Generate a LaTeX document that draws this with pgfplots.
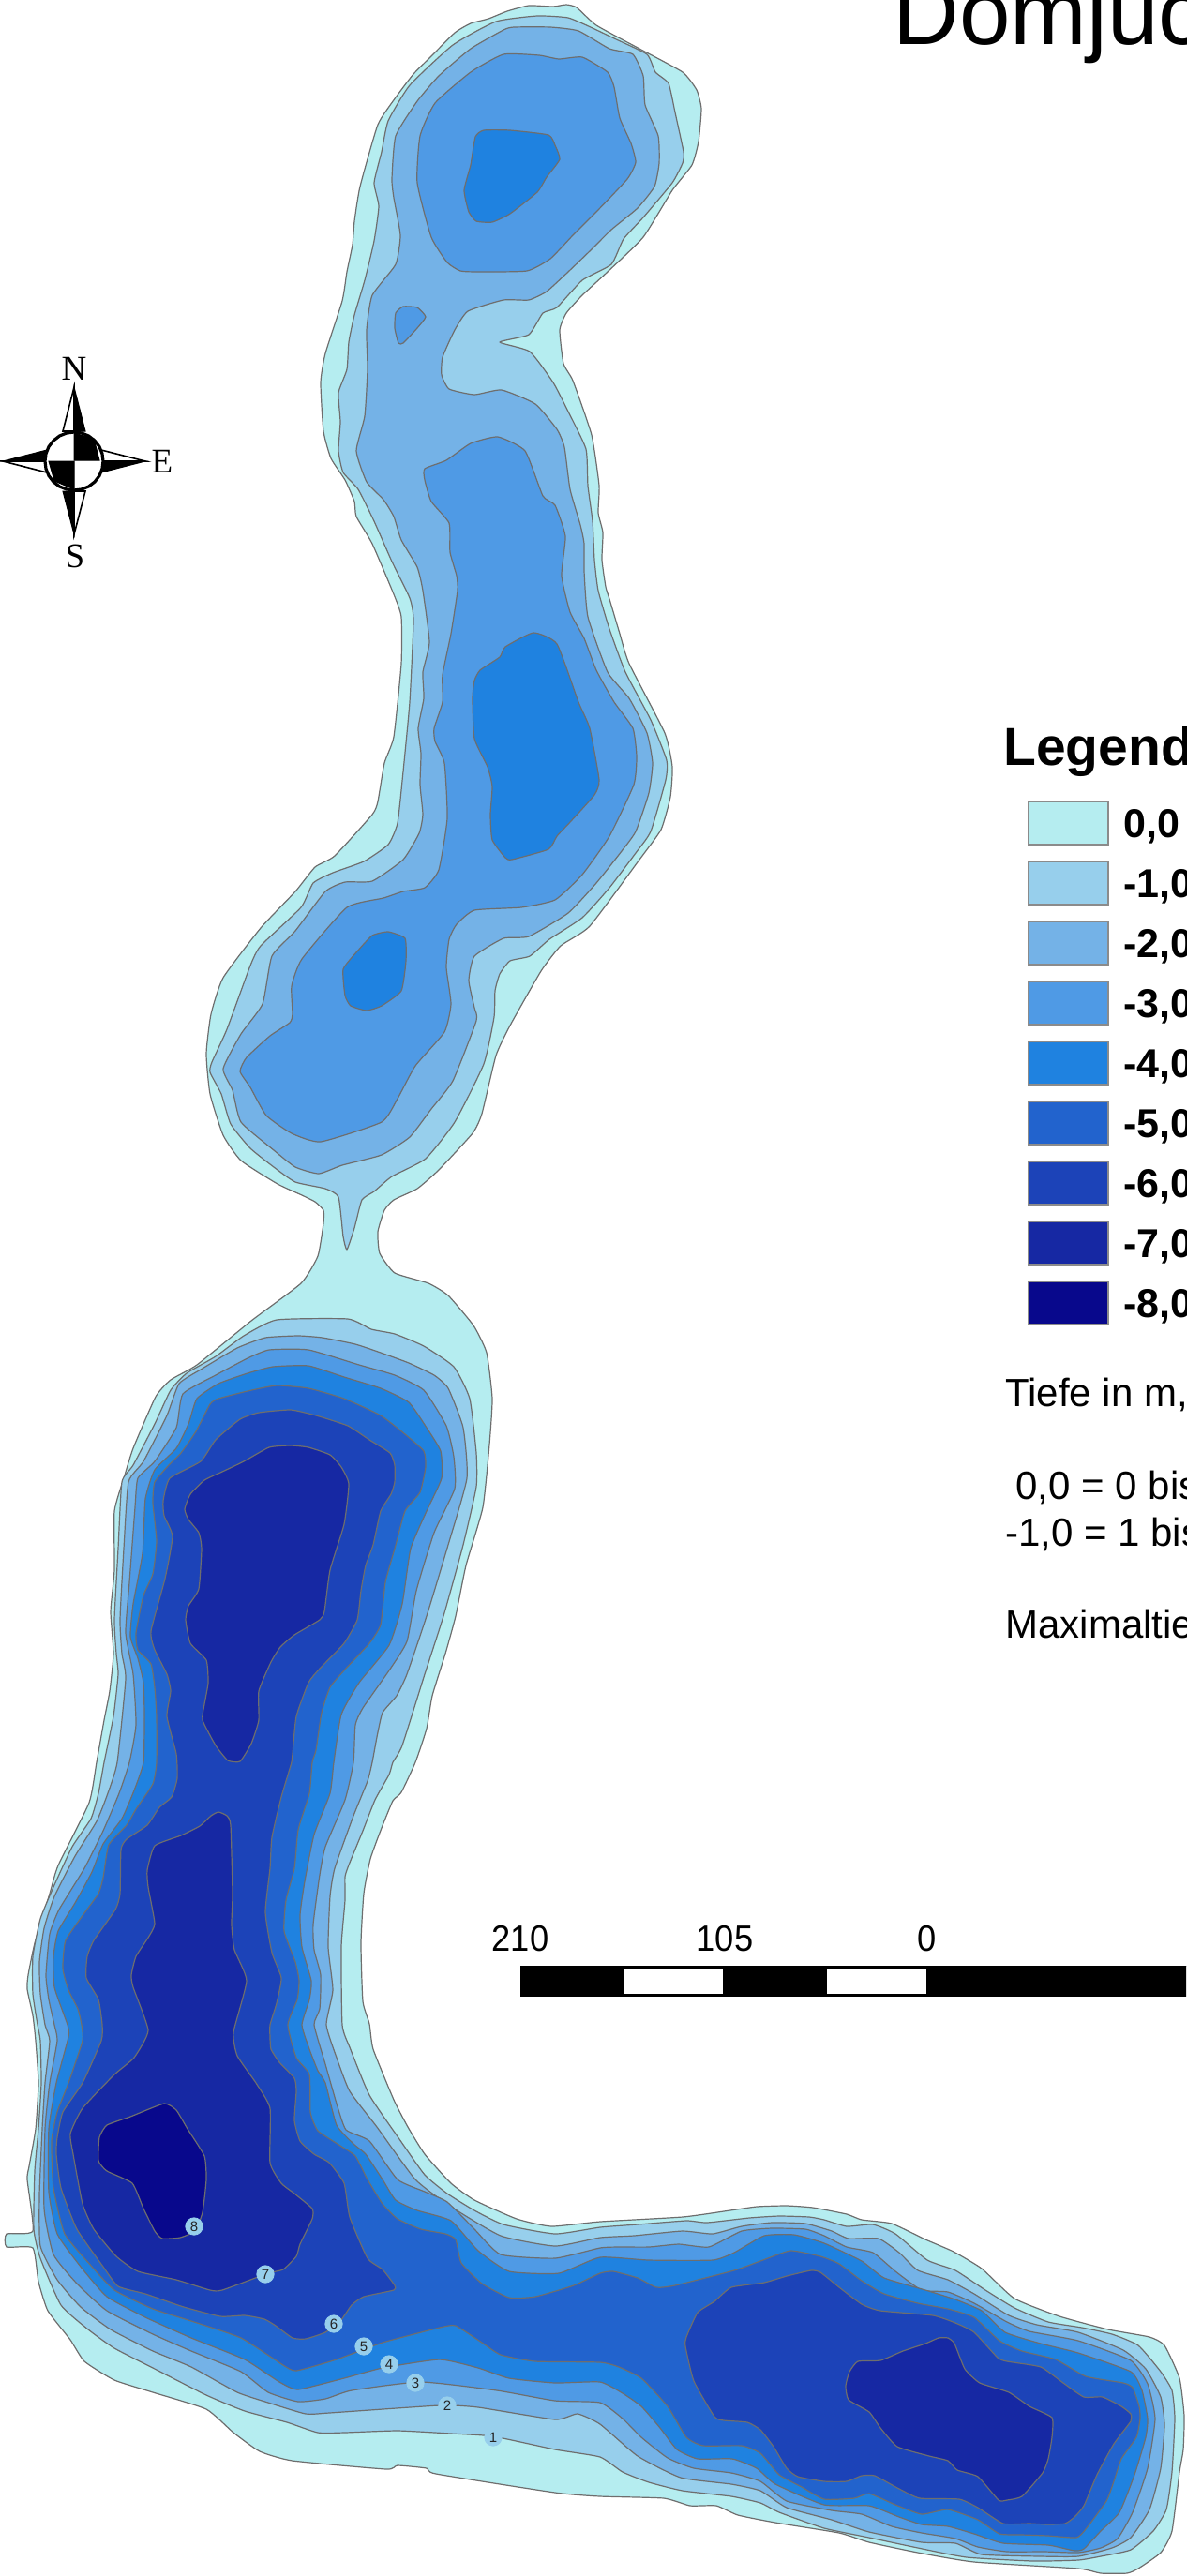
\documentclass[border=0pt]{standalone}
\usepackage{fontspec}
\setmainfont{Liberation Sans}
\newfontfamily\compassfont{Liberation Serif}
\usepackage{pgfplots}
\pgfplotsset{compat=1.18}
% coordinates are pixels of the map, 1 px = 0.5 pt
\definecolor{d0}{HTML}{B5EDF0}
\definecolor{d1}{HTML}{97CFEC}
\definecolor{d2}{HTML}{74B2E7}
\definecolor{d3}{HTML}{4F9AE5}
\definecolor{d4}{HTML}{1F82E0}
\definecolor{d5}{HTML}{2263CD}
\definecolor{d6}{HTML}{1C43B8}
\definecolor{d7}{HTML}{1628A3}
\definecolor{d8}{HTML}{08088C}
\definecolor{edge}{HTML}{6E6E6E}
\pgfplotsset{
  depth/.style={fill=#1, draw=edge, line width=0.6pt, line join=round, mark=none, /tikz/smooth cycle, /tikz/tension=0.3},
  swatch/.style={fill=#1, draw=edge!80, line width=0.6pt, mark=none},
  solid black/.style={fill=black, draw=black, line width=0.5pt, line join=miter, mark=none},
  arm white/.style={fill=white, draw=black, line width=0.8pt, line join=miter, mark=none},
}
\begin{document}
\begin{tikzpicture}
\path[use as bounding box] (0,0) rectangle (632.5pt,1374pt);
\clip (0,0) rectangle (632.5pt,1374pt);
\begin{axis}[
  scale only axis, width=632.5pt, height=1374pt,
  axis lines=none, xmin=0, xmax=1265, ymin=0, ymax=2748, y dir=reverse,
  clip=false,
]
% 0,0 whole lake
\addplot[depth=d0] coordinates {(604,5)(615,8)(636,27)(682,52)(728,77)(743,96)(748,116)(745,151)(738,176)(717,203)(686,253)(648,290)(621,315)(604,334)(597,352)(601,388)(611,406)(631,464)(639,518)(638,547)(643,568)(642,597)(646,626)(650,639)(661,676)(671,708)(709,782)(717,818)(715,850)(705,885)(682,917)(629,988)(598,1009)(577,1036)(544,1094)(529,1126)(514,1188)(504,1209)(468,1248)(445,1268)(420,1280)(410,1291)(403,1314)(405,1337)(421,1358)(457,1369)(478,1382)(505,1414)(519,1443)(525,1492)(522,1541)(515,1608)(497,1670)(486,1724)(475,1764)(461,1809)(455,1844)(443,1880)(428,1912)(419,1921)(407,1950)(395,1983)(388,2020)(385,2073)(387,2135)(394,2159)(398,2186)(420,2240)(435,2269)(453,2298)(481,2329)(506,2347)(551,2367)(588,2375)(640,2370)(728,2365)(772,2359)(807,2354)(839,2353)(867,2355)(903,2362)(919,2368)(951,2372)(987,2389)(1017,2402)(1047,2420)(1082,2452)(1130,2471)(1182,2485)(1226,2493)(1242,2502)(1258,2537)(1263,2577)(1262,2613)(1258,2637)(1250,2700)(1238,2723)(1214,2740)(1202,2745)(1174,2745)(1150,2740)(1039,2733)(979,2723)(927,2712)(895,2702)(827,2691)(787,2683)(764,2673)(736,2673)(708,2665)(640,2663)(592,2659)(465,2639)(455,2633)(424,2630)(412,2634)(312,2625)(277,2615)(249,2595)(220,2570)(163,2552)(122,2539)(90,2519)(75,2496)(51,2465)(41,2434)(35,2398)(7,2397)(7,2383)(35,2380)(29,2325)(31,2311)(38,2271)(41,2222)(38,2177)(35,2150)(29,2122)(30,2107)(37,2073)(53,2020)(62,1990)(95,1923)(103,1880)(111,1835)(117,1804)(121,1764)(118,1719)(122,1675)(122,1612)(132,1577)(142,1545)(166,1490)(182,1472)(210,1456)(268,1409)(321,1369)(339,1340)(345,1305)(345,1291)(336,1282)(322,1275)(296,1263)(257,1238)(238,1211)(224,1167)(220,1124)(225,1082)(238,1043)(278,990)(315,951)(336,925)(357,913)(397,869)(403,855)(410,814)(420,786)(428,708)(428,658)(420,634)(397,580)(380,551)(378,535)(368,512)(353,489)(345,460)(342,408)(347,377)(365,321)(370,290)(376,261)(378,236)(384,199)(403,133)(422,104)(441,79)(460,60)(485,35)(502,25)(521,20)(541,12)(564,6)(590,7)};
% north basin
\addplot[depth=d1] coordinates {(573,17)(606,19)(632,30)(655,41)(690,58)(699,77)(713,89)(720,120)(729,162)(728,174)(717,195)(686,232)(665,255)(652,282)(621,299)(594,328)(579,334)(564,357)(533,365)(565,375)(590,408)(606,439)(625,479)(627,518)(632,556)(634,597)(638,630)(650,671)(667,717)(694,768)(711,811)(710,832)(694,887)(678,910)(650,947)(621,979)(586,1002)(565,1020)(544,1025)(533,1039)(528,1057)(527,1085)(516,1135)(485,1197)(454,1236)(418,1255)(399,1271)(386,1280)(378,1310)(370,1333)(366,1319)(361,1277)(347,1268)(315,1261)(292,1245)(267,1225)(246,1199)(236,1167)(224,1144)(226,1133)(242,1098)(267,1030)(278,1009)(321,968)(334,942)(355,931)(388,919)(414,901)(424,878)(430,823)(437,749)(441,662)(437,638)(418,599)(399,556)(382,522)(366,504)(361,481)(363,450)(361,419)(370,394)(372,365)(378,336)(389,299)(399,257)(404,220)(399,195)(407,162)(414,129)(437,91)(483,48)(529,23)};
\addplot[depth=d2] coordinates {(548,29)(587,29)(617,33)(650,52)(675,58)(686,81)(688,112)(702,145)(703,174)(698,199)(680,222)(652,245)(632,265)(606,290)(583,311)(564,320)(537,320)(499,332)(485,352)(472,381)(471,400)(479,415)(506,421)(535,416)(571,431)(594,458)(602,477)(608,522)(619,560)(623,580)(623,609)(627,658)(648,717)(671,745)(690,782)(696,814)(692,846)(678,887)(663,908)(636,942)(606,974)(564,999)(537,1001)(506,1020)(500,1046)(506,1075)(508,1089)(483,1153)(460,1183)(437,1213)(407,1232)(365,1243)(340,1252)(315,1245)(292,1227)(257,1197)(248,1163)(238,1140)(257,1103)(280,1071)(290,1020)(315,993)(347,951)(368,941)(397,940)(430,917)(447,889)(451,869)(448,837)(449,804)(446,777)(452,745)(451,717)(458,685)(451,630)(445,605)(428,576)(420,551)(409,533)(391,514)(380,481)(389,444)(392,394)(391,352)(397,315)(422,282)(427,251)(420,211)(418,191)(422,145)(445,108)(468,81)(502,52)(537,32)};
\addplot[depth=d3] coordinates {(537,58)(575,59)(596,63)(621,61)(648,77)(655,93)(661,126)(673,153)(678,173)(669,191)(636,226)(611,251)(587,276)(562,289)(510,290)(491,289)(477,280)(460,253)(445,195)(448,145)(464,110)(502,77)};
\addplot[depth=d3] coordinates {(430,327)(445,328)(454,338)(445,350)(430,366)(425,366)(421,350)(422,334)};
\addplot[depth=d3] coordinates {(453,500)(476,491)(502,473)(531,466)(560,481)(579,529)(592,539)(603,572)(599,614)(608,653)(623,681)(636,715)(655,749)(675,777)(679,807)(676,837)(650,892)(621,933)(592,960)(556,968)(506,971)(487,986)(479,1002)(476,1032)(481,1071)(474,1101)(443,1137)(424,1172)(407,1197)(342,1218)(311,1209)(284,1190)(267,1160)(256,1143)(263,1128)(288,1105)(309,1091)(312,1082)(311,1052)(322,1023)(370,968)(409,958)(430,951)(453,947)(468,928)(477,873)(474,814)(464,791)(463,777)(472,749)(472,720)(481,676)(488,630)(487,614)(480,589)(479,558)(460,535)(453,512)};
\addplot[depth=d4] coordinates {(516,139)(544,139)(585,144)(592,155)(597,170)(583,189)(573,205)(544,228)(525,237)(508,236)(500,226)(495,203)(502,176)(507,146)};
\addplot[depth=d4] coordinates {(569,675)(594,687)(617,749)(629,777)(639,832)(634,848)(609,876)(594,892)(585,906)(546,917)(539,915)(525,896)(523,869)(525,839)(520,818)(506,788)(504,745)(506,726)(512,715)(533,701)(539,690)};
\addplot[depth=d4] coordinates {(397,998)(414,994)(432,1001)(433,1025)(428,1057)(407,1073)(391,1078)(374,1073)(368,1062)(366,1034)(380,1016)};
% south basin
\addplot[depth=d1] coordinates {(295,1408)(371,1407)(396,1418)(421,1423)(452,1436)(484,1458)(501,1492)(508,1550)(508,1586)(494,1648)(473,1724)(453,1786)(429,1862)(419,1880)(415,1893)(400,1920)(387,1953)(373,1987)(368,2002)(368,2027)(364,2077)(365,2160)(373,2184)(394,2235)(426,2282)(453,2320)(477,2340)(506,2358)(537,2373)(592,2383)(640,2376)(680,2373)(732,2369)(754,2371)(799,2366)(831,2364)(863,2365)(879,2368)(903,2375)(931,2373)(955,2383)(989,2411)(1019,2422)(1051,2443)(1082,2462)(1118,2477)(1154,2483)(1186,2490)(1214,2502)(1238,2530)(1250,2550)(1253,2580)(1250,2637)(1244,2677)(1230,2700)(1206,2720)(1174,2727)(1150,2731)(1102,2732)(1031,2728)(979,2718)(927,2707)(879,2697)(831,2680)(811,2670)(780,2663)(728,2657)(692,2648)(664,2637)(640,2621)(592,2613)(526,2599)(481,2596)(424,2593)(367,2595)(339,2595)(306,2584)(261,2572)(220,2555)(163,2526)(122,2505)(94,2485)(65,2459)(43,2409)(36,2378)(37,2316)(41,2271)(44,2222)(43,2177)(40,2160)(35,2127)(35,2087)(43,2047)(57,2013)(77,1970)(97,1940)(105,1913)(111,1880)(121,1831)(126,1786)(124,1764)(122,1728)(126,1652)(130,1581)(142,1563)(165,1519)(182,1483)(199,1465)(230,1447)(260,1425)};
\addplot[depth=d2] coordinates {(318,1425)(344,1427)(379,1434)(406,1443)(436,1454)(463,1467)(478,1481)(494,1523)(498,1577)(478,1648)(455,1724)(434,1786)(423,1809)(408,1827)(402,1853)(397,1880)(392,1900)(377,1937)(357,1993)(352,2023)(350,2077)(355,2123)(348,2160)(359,2195)(373,2231)(402,2269)(443,2325)(481,2354)(534,2385)(592,2396)(640,2387)(676,2385)(728,2380)(760,2383)(791,2375)(823,2371)(859,2372)(887,2380)(905,2388)(937,2388)(959,2403)(979,2422)(1011,2432)(1039,2447)(1076,2470)(1106,2480)(1150,2488)(1198,2507)(1222,2527)(1238,2557)(1242,2587)(1238,2633)(1226,2677)(1206,2707)(1186,2718)(1150,2727)(1110,2727)(1047,2725)(1019,2713)(983,2712)(927,2701)(887,2688)(839,2675)(811,2657)(780,2650)(726,2643)(680,2620)(640,2586)(616,2575)(592,2581)(510,2568)(469,2566)(351,2574)(326,2575)(286,2563)(253,2552)(204,2525)(163,2508)(118,2485)(86,2461)(61,2432)(43,2396)(42,2342)(45,2271)(48,2222)(53,2177)(48,2160)(43,2127)(42,2093)(47,2057)(58,2023)(80,1980)(103,1943)(115,1913)(125,1880)(134,1791)(130,1764)(128,1728)(132,1652)(137,1581)(153,1559)(178,1510)(191,1476)(214,1461)(253,1438)(283,1427)};
\addplot[depth=d3] coordinates {(287,1440)(329,1440)(383,1456)(421,1467)(452,1483)(476,1521)(484,1554)(485,1588)(463,1635)(444,1697)(434,1751)(415,1782)(387,1822)(379,1840)(377,1880)(368,1920)(347,1970)(341,2000)(334,2053)(335,2080)(342,2107)(341,2143)(335,2160)(347,2202)(359,2244)(369,2272)(394,2284)(424,2325)(453,2338)(477,2349)(506,2378)(534,2405)(592,2409)(640,2398)(660,2397)(692,2397)(724,2394)(756,2397)(791,2380)(823,2377)(859,2378)(879,2385)(903,2397)(931,2403)(955,2423)(983,2443)(1011,2445)(1039,2457)(1074,2477)(1098,2487)(1150,2497)(1206,2518)(1224,2543)(1232,2580)(1224,2633)(1208,2680)(1192,2708)(1174,2718)(1150,2723)(1114,2722)(1074,2722)(1043,2717)(1019,2708)(983,2702)(951,2695)(919,2682)(887,2678)(839,2668)(811,2647)(780,2638)(740,2633)(712,2622)(684,2600)(664,2580)(640,2563)(592,2561)(530,2550)(449,2541)(375,2550)(347,2559)(318,2562)(286,2552)(257,2530)(204,2508)(163,2490)(114,2465)(82,2436)(57,2405)(47,2356)(48,2271)(53,2222)(61,2177)(58,2160)(52,2133)(49,2107)(53,2063)(63,2037)(90,1993)(110,1953)(127,1913)(138,1880)(145,1840)(142,1786)(134,1742)(138,1688)(144,1608)(147,1577)(165,1559)(188,1523)(195,1487)(230,1467)(264,1449)};
\addplot[depth=d4] coordinates {(291,1458)(329,1457)(367,1469)(406,1481)(436,1496)(455,1523)(470,1548)(471,1577)(455,1612)(438,1652)(429,1711)(415,1755)(383,1795)(364,1829)(356,1880)(352,1913)(335,1957)(325,2007)(320,2043)(322,2077)(332,2113)(330,2133)(322,2160)(330,2186)(339,2209)(347,2222)(359,2267)(377,2287)(390,2298)(408,2325)(422,2347)(445,2358)(481,2369)(510,2401)(543,2423)(596,2425)(640,2408)(692,2411)(760,2411)(783,2403)(815,2385)(847,2384)(879,2393)(919,2412)(943,2430)(987,2443)(1019,2453)(1047,2465)(1072,2488)(1110,2500)(1150,2510)(1206,2530)(1218,2550)(1224,2580)(1222,2600)(1210,2640)(1194,2680)(1174,2700)(1156,2719)(1146,2721)(1118,2715)(1070,2713)(1039,2703)(1011,2695)(983,2693)(959,2685)(927,2673)(879,2672)(827,2650)(807,2633)(781,2623)(744,2623)(722,2613)(704,2590)(684,2567)(664,2553)(640,2541)(592,2542)(543,2537)(510,2526)(469,2517)(408,2526)(367,2537)(318,2549)(298,2541)(261,2517)(204,2494)(155,2472)(114,2450)(86,2418)(61,2383)(52,2338)(52,2271)(60,2222)(73,2173)(72,2160)(58,2120)(57,2087)(62,2060)(80,2030)(98,1997)(110,1967)(130,1940)(143,1910)(153,1880)(154,1831)(153,1795)(147,1769)(139,1746)(142,1711)(152,1657)(155,1599)(165,1568)(188,1545)(201,1519)(210,1492)(233,1476)(264,1465)};
\addplot[depth=d5] coordinates {(233,1492)(264,1484)(295,1478)(329,1481)(367,1492)(406,1510)(432,1530)(452,1548)(454,1565)(448,1592)(432,1612)(421,1652)(411,1688)(406,1733)(394,1753)(367,1782)(352,1800)(343,1827)(337,1867)(333,1880)(330,1913)(318,1952)(314,1993)(305,2027)(303,2060)(315,2093)(319,2113)(317,2133)(307,2160)(316,2195)(330,2213)(331,2253)(339,2273)(363,2289)(379,2300)(392,2325)(408,2351)(424,2367)(449,2378)(475,2383)(486,2389)(492,2414)(514,2436)(543,2451)(571,2450)(612,2438)(640,2425)(654,2423)(680,2430)(700,2440)(720,2438)(783,2422)(811,2412)(843,2401)(875,2407)(895,2415)(919,2433)(943,2447)(979,2457)(1011,2463)(1039,2472)(1066,2497)(1090,2508)(1126,2517)(1158,2535)(1198,2542)(1208,2547)(1215,2567)(1216,2580)(1212,2600)(1196,2623)(1188,2647)(1180,2668)(1158,2698)(1148,2707)(1118,2705)(1090,2704)(1066,2703)(1043,2688)(1011,2677)(983,2682)(955,2672)(927,2660)(911,2665)(879,2666)(855,2653)(831,2640)(811,2617)(791,2609)(750,2609)(732,2600)(712,2567)(684,2537)(660,2525)(640,2520)(571,2519)(534,2512)(514,2499)(486,2481)(469,2483)(408,2499)(359,2517)(316,2529)(302,2523)(257,2494)(204,2476)(163,2463)(122,2443)(98,2418)(69,2383)(57,2334)(55,2284)(61,2253)(73,2222)(88,2177)(87,2160)(83,2143)(73,2123)(67,2100)(70,2070)(92,2038)(105,2020)(110,2003)(116,1968)(135,1947)(145,1930)(163,1903)(167,1880)(167,1831)(165,1800)(161,1775)(147,1760)(145,1742)(153,1702)(163,1679)(167,1644)(163,1603)(165,1581)(180,1563)(193,1550)(209,1527)(224,1498)};
\addplot[depth=d6] coordinates {(276,1507)(310,1504)(337,1510)(371,1521)(394,1536)(416,1550)(421,1563)(421,1581)(417,1594)(406,1612)(398,1648)(390,1670)(385,1697)(381,1728)(367,1753)(341,1780)(329,1795)(316,1831)(312,1871)(311,1880)(300,1917)(290,1960)(288,1993)(283,2040)(290,2083)(300,2110)(295,2137)(288,2160)(288,2173)(289,2186)(298,2200)(314,2217)(316,2231)(314,2262)(320,2284)(335,2298)(351,2307)(367,2329)(373,2365)(392,2409)(408,2421)(421,2438)(420,2443)(388,2450)(375,2459)(363,2476)(347,2488)(326,2495)(312,2494)(294,2481)(282,2474)(261,2470)(235,2471)(196,2461)(155,2447)(126,2439)(110,2418)(82,2378)(65,2334)(60,2298)(61,2280)(67,2253)(88,2222)(108,2177)(109,2160)(105,2133)(92,2110)(93,2087)(100,2070)(123,2037)(128,2020)(129,1973)(135,1962)(157,1947)(170,1928)(183,1917)(189,1897)(188,1871)(178,1831)(182,1804)(178,1786)(165,1760)(161,1740)(176,1684)(184,1639)(175,1617)(174,1601)(181,1577)(214,1559)(230,1536)(256,1514)};
\addplot[depth=d6] coordinates {(865,2422)(875,2424)(895,2440)(919,2458)(939,2465)(995,2470)(1019,2478)(1039,2488)(1064,2515)(1074,2519)(1110,2525)(1134,2542)(1156,2557)(1176,2557)(1196,2567)(1206,2575)(1206,2583)(1188,2607)(1170,2640)(1156,2673)(1146,2685)(1136,2692)(1118,2693)(1098,2692)(1070,2692)(1043,2675)(1023,2666)(981,2665)(959,2655)(933,2641)(919,2641)(903,2647)(879,2647)(851,2642)(839,2633)(825,2610)(811,2592)(797,2584)(772,2582)(762,2578)(740,2540)(731,2503)(732,2493)(744,2467)(762,2455)(780,2440)(815,2435)(839,2428)};
\addplot[depth=d7] coordinates {(197,1610)(203,1594)(218,1579)(237,1570)(260,1559)(287,1544)(310,1542)(329,1544)(352,1552)(364,1565)(372,1583)(367,1626)(352,1675)(346,1719)(341,1728)(314,1744)(299,1757)(289,1773)(276,1804)(276,1835)(268,1860)(256,1879)(243,1878)(230,1862)(216,1835)(218,1818)(222,1795)(220,1771)(203,1753)(198,1728)(201,1713)(212,1695)(215,1652)(212,1635)(201,1621)};
\addplot[depth=d7] coordinates {(165,1969)(193,1958)(213,1948)(225,1937)(233,1933)(242,1937)(246,1947)(248,2020)(247,2053)(250,2080)(263,2113)(249,2168)(253,2193)(273,2222)(288,2249)(288,2307)(300,2329)(314,2340)(333,2356)(333,2367)(320,2394)(316,2407)(302,2421)(286,2425)(237,2443)(224,2443)(188,2432)(147,2423)(124,2407)(100,2378)(88,2351)(78,2298)(75,2276)(88,2249)(122,2213)(143,2195)(158,2166)(142,2120)(140,2107)(145,2087)(158,2067)(165,2052)(158,2013)(157,1995)};
\addplot[depth=d7] coordinates {(1001,2494)(1011,2494)(1018,2500)(1029,2527)(1045,2542)(1076,2552)(1098,2567)(1122,2579)(1122,2600)(1118,2623)(1112,2638)(1090,2663)(1074,2667)(1065,2667)(1043,2642)(1021,2635)(1011,2625)(991,2620)(957,2610)(939,2590)(927,2573)(905,2560)(902,2545)(906,2530)(915,2519)(939,2518)(963,2508)(987,2500)};
\addplot[depth=d8] coordinates {(175,2244)(188,2251)(200,2271)(218,2300)(220,2325)(216,2360)(208,2380)(192,2387)(173,2388)(165,2380)(153,2356)(141,2329)(114,2316)(105,2305)(106,2280)(114,2267)(139,2258)};
% contour numbers
\addplot[only marks, mark=*, mark size=4.6pt, mark options={draw=d1, fill=d1},
  point meta=explicit symbolic, nodes near coords,
  every node near coord/.style={anchor=center, inner sep=0pt, text=black!85, font=\fontsize{7.5}{8}\selectfont}]
  table[meta=n] {
x y n
526 2600 1
477 2566 2
443 2542 3
415 2522 4
388 2503 5
356 2479 6
283 2426 7
207 2375 8
};
% compass
\addplot[arm white] coordinates {(79,413)(67,460)(79,460)} -- cycle;
\addplot[solid black] coordinates {(79,413)(91,460)(79,460)} -- cycle;
\addplot[solid black] coordinates {(79,570)(67,524)(79,524)} -- cycle;
\addplot[arm white] coordinates {(79,570)(91,524)(79,524)} -- cycle;
\addplot[solid black] coordinates {(3,492)(50,480)(50,492)} -- cycle;
\addplot[arm white] coordinates {(3,492)(50,504)(50,492)} -- cycle;
\addplot[arm white] coordinates {(155,492)(108,480)(108,492)} -- cycle;
\addplot[solid black] coordinates {(155,492)(108,504)(108,492)} -- cycle;
\addplot[fill=white, draw=black, line width=1.6pt, mark=none] coordinates {(110,492)(109,500)(106,507.5)(101,514)(94.5,519)(87,522)(79,523)(71,522)(63.5,519)(57,514)(52,507.5)(49,500)(48,492)(49,484)(52,476.5)(57,470)(63.5,465)(71,462)(79,461)(87,462)(94.5,465)(101,470)(106,476.5)(109,484)} -- cycle;
\addplot[solid black] coordinates {(79,462)(100,468)(106,491)(79,491)} -- cycle;
\addplot[solid black] coordinates {(52,492)(79,492)(79,522)(58,513)} -- cycle;
\node[anchor=center, inner sep=0pt, font=\compassfont\fontsize{18.5}{20}\selectfont] at (axis cs:79,393) {N};
\node[anchor=center, inner sep=0pt, font=\compassfont\fontsize{18.5}{20}\selectfont] at (axis cs:173,492) {E};
\node[anchor=center, inner sep=0pt, font=\compassfont\fontsize{18.5}{20}\selectfont] at (axis cs:80,593) {S};
% scale bar
\addplot[fill=black, draw=black, line width=0.3pt, mark=none] coordinates {(555,2097)(1275,2097)(1275,2129)(555,2129)} -- cycle;
\addplot[fill=white, draw=none, mark=none] coordinates {(666,2100)(771,2100)(771,2127)(666,2127)} -- cycle;
\addplot[fill=white, draw=none, mark=none] coordinates {(882,2100)(988,2100)(988,2127)(882,2127)} -- cycle;
\node[anchor=base, inner sep=0pt, xscale=0.93, font=\fontsize{19.5}{20}\selectfont] at (axis cs:555,2081) {210};
\node[anchor=base, inner sep=0pt, xscale=0.93, font=\fontsize{19.5}{20}\selectfont] at (axis cs:773,2081) {105};
\node[anchor=base, inner sep=0pt, xscale=0.93, font=\fontsize{19.5}{20}\selectfont] at (axis cs:989,2081) {0};
% legend
\addplot[swatch=d0] coordinates {(1097,855)(1182,855)(1182,901)(1097,901)} -- cycle;
\addplot[swatch=d1] coordinates {(1097,919)(1182,919)(1182,965)(1097,965)} -- cycle;
\addplot[swatch=d2] coordinates {(1097,983)(1182,983)(1182,1029)(1097,1029)} -- cycle;
\addplot[swatch=d3] coordinates {(1097,1047)(1182,1047)(1182,1093)(1097,1093)} -- cycle;
\addplot[swatch=d4] coordinates {(1097,1111)(1182,1111)(1182,1157)(1097,1157)} -- cycle;
\addplot[swatch=d5] coordinates {(1097,1175)(1182,1175)(1182,1221)(1097,1221)} -- cycle;
\addplot[swatch=d6] coordinates {(1097,1239)(1182,1239)(1182,1285)(1097,1285)} -- cycle;
\addplot[swatch=d7] coordinates {(1097,1303)(1182,1303)(1182,1349)(1097,1349)} -- cycle;
\addplot[swatch=d8] coordinates {(1097,1367)(1182,1367)(1182,1413)(1097,1413)} -- cycle;
\node[anchor=base west, inner sep=0pt, font=\bfseries\fontsize{28.5}{30}\selectfont] at (axis cs:1070,816) {Legend};
\node[anchor=base west, inner sep=0pt, font=\bfseries\fontsize{21.5}{24}\selectfont] at (axis cs:1198,893) {0,0};
\node[anchor=base west, inner sep=0pt, font=\bfseries\fontsize{21.5}{24}\selectfont] at (axis cs:1198,957) {-1,0};
\node[anchor=base west, inner sep=0pt, font=\bfseries\fontsize{21.5}{24}\selectfont] at (axis cs:1198,1021) {-2,0};
\node[anchor=base west, inner sep=0pt, font=\bfseries\fontsize{21.5}{24}\selectfont] at (axis cs:1198,1085) {-3,0};
\node[anchor=base west, inner sep=0pt, font=\bfseries\fontsize{21.5}{24}\selectfont] at (axis cs:1198,1149) {-4,0};
\node[anchor=base west, inner sep=0pt, font=\bfseries\fontsize{21.5}{24}\selectfont] at (axis cs:1198,1213) {-5,0};
\node[anchor=base west, inner sep=0pt, font=\bfseries\fontsize{21.5}{24}\selectfont] at (axis cs:1198,1277) {-6,0};
\node[anchor=base west, inner sep=0pt, font=\bfseries\fontsize{21.5}{24}\selectfont] at (axis cs:1198,1341) {-7,0};
\node[anchor=base west, inner sep=0pt, font=\bfseries\fontsize{21.5}{24}\selectfont] at (axis cs:1198,1405) {-8,0};
\node[anchor=base west, inner sep=0pt, font=\fontsize{21}{24}\selectfont] at (axis cs:1072,1500) {Tiefe in m,};
\node[anchor=base west, inner sep=0pt, font=\fontsize{21}{24}\selectfont] at (axis cs:1083,1599) {0,0 = 0 bis};
\node[anchor=base west, inner sep=0pt, font=\fontsize{21}{24}\selectfont] at (axis cs:1072,1649) {-1,0 = 1 bis};
\node[anchor=base west, inner sep=0pt, font=\fontsize{21}{24}\selectfont] at (axis cs:1072,1747) {Maximaltiefe};
% title, cut by the page edge
\node[anchor=base west, inner sep=0pt, font=\fontsize{49}{52}\selectfont] at (axis cs:952,47) {Domjuc};
\end{axis}
\end{tikzpicture}
\end{document}
